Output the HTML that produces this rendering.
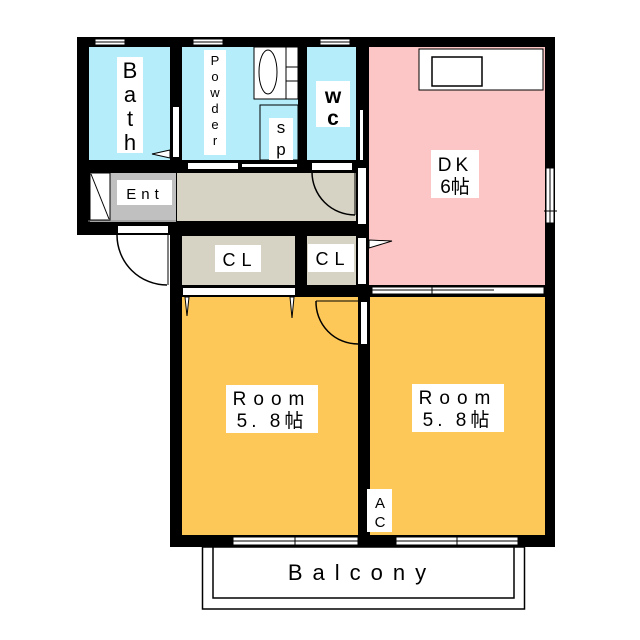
<!DOCTYPE html>
<html><head><meta charset="utf-8"><style>
html,body{margin:0;padding:0;background:#fff;width:640px;height:640px;overflow:hidden}
svg{display:block}
text{font-family:"Liberation Sans","Noto Sans CJK JP",sans-serif;fill:#000}
</style></head><body>
<svg width="640" height="640" viewBox="0 0 640 640" xmlns="http://www.w3.org/2000/svg">
<rect x="77" y="37" width="478" height="198" fill="#000"/>
<rect x="170" y="235" width="385" height="312" fill="#000"/>
<rect x="89" y="47" width="81" height="113" fill="#b5eefa"/>
<rect x="182" y="47" width="116" height="113" fill="#b5eefa"/>
<rect x="307" y="47" width="49" height="113" fill="#b5eefa"/>
<rect x="369" y="47" width="176" height="238" fill="#fcc6c6"/>
<rect x="90" y="173" width="86" height="49" fill="#c0c0c0"/>
<rect x="177" y="173" width="179" height="48" fill="#d6d3c4"/>
<rect x="182" y="236" width="113" height="49" fill="#d6d3c4"/>
<rect x="307" y="236" width="49" height="49" fill="#d6d3c4"/>
<rect x="182" y="297" width="176" height="238" fill="#fdc858"/>
<rect x="370" y="297" width="175" height="238" fill="#fdc858"/>
<g fill="#fff" stroke="#000" stroke-width="1">
<rect x="95" y="39" width="30" height="6"/><rect x="193" y="39" width="30" height="6"/><rect x="320" y="39" width="30" height="6"/>
</g>
<line x1="95" y1="42" x2="125" y2="42" stroke="#000"/><line x1="193" y1="42" x2="223" y2="42" stroke="#000"/><line x1="320" y1="42" x2="350" y2="42" stroke="#000"/>
<rect x="173" y="107" width="6" height="50" fill="#fff"/>
<polygon points="170,150 152,154 170,158" fill="#fff" stroke="#000"/>
<rect x="254" y="47" width="44" height="52" fill="#fff" stroke="#000"/>
<ellipse cx="268" cy="72" rx="9" ry="22" fill="#fff" stroke="#000"/>
<line x1="286" y1="47" x2="286" y2="99" stroke="#000"/>
<line x1="286" y1="67" x2="298" y2="67" stroke="#000"/><line x1="286" y1="81" x2="298" y2="81" stroke="#000"/>
<rect x="260" y="105" width="38" height="55" fill="#b5eefa" stroke="#000"/>
<rect x="188" y="163" width="50" height="6" fill="#fff"/>
<rect x="242" y="164" width="55" height="3" fill="#fff"/>
<rect x="312" y="163" width="40" height="7" fill="#fff"/>
<path d="M312,172 A43,43 0 0 0 355,215" fill="none" stroke="#000" stroke-width="1.5"/>
<line x1="355" y1="172" x2="355" y2="215" stroke="#000"/>
<rect x="360" y="110" width="3" height="50" fill="#fff"/>
<rect x="358" y="168" width="8" height="56" fill="#fff"/>
<rect x="358" y="238" width="8" height="46" fill="#fff"/>
<polygon points="369,240 392,241 369,248" fill="#fff" stroke="#000"/>
<rect x="419" y="49" width="124" height="41" fill="#fff" stroke="#000"/>
<rect x="432" y="57" width="50" height="29" fill="#fff" stroke="#000" stroke-width="1.5"/>
<rect x="546" y="168" width="8" height="55" fill="#fff" stroke="#000"/>
<line x1="550" y1="168" x2="550" y2="223" stroke="#000"/>
<line x1="544" y1="211" x2="557" y2="211" stroke="#000"/>
<rect x="372" y="287" width="172" height="7" fill="#fff" stroke="#000"/>
<line x1="372" y1="290" x2="494" y2="290" stroke="#000"/>
<line x1="432" y1="285" x2="432" y2="296" stroke="#000"/>
<rect x="90" y="173" width="20" height="47" fill="#fff" stroke="#000"/>
<line x1="91" y1="174" x2="109" y2="219" stroke="#000"/>
<line x1="88" y1="221" x2="176" y2="221" stroke="#888"/>
<rect x="118" y="226" width="50" height="7" fill="#fff"/>
<rect x="77" y="235" width="93" height="60" fill="#fff"/>
<path d="M117,235 A50,50 0 0 0 167,285" fill="none" stroke="#000" stroke-width="1.5"/>
<line x1="168" y1="235" x2="168" y2="285" stroke="#000"/>
<rect x="183" y="288" width="112" height="7" fill="#fff"/>
<polygon points="185,297 189,297 187,316" fill="#fff" stroke="#000"/>
<polygon points="290,297 294,297 292,318" fill="#fff" stroke="#000"/>
<rect x="361" y="302" width="6" height="42" fill="#fff"/>
<path d="M316,301 A42,42 0 0 0 358,344" fill="none" stroke="#000" stroke-width="1.5"/>
<line x1="316" y1="301" x2="358" y2="301" stroke="#000"/>
<rect x="233" y="537" width="125" height="8" fill="#fff" stroke="#000"/>
<line x1="233" y1="541" x2="358" y2="541" stroke="#000"/>
<line x1="295" y1="535" x2="295" y2="547" stroke="#000"/>
<rect x="396" y="537" width="122" height="8" fill="#fff" stroke="#000"/>
<line x1="396" y1="541" x2="518" y2="541" stroke="#000"/>
<line x1="457" y1="535" x2="457" y2="547" stroke="#000"/>
<rect x="202.5" y="547" width="322" height="62" fill="none" stroke="#000" stroke-width="1.5"/>
<rect x="213" y="547" width="301" height="51" fill="#fff" stroke="#000" stroke-width="1.5"/>
<text x="362" y="580" font-size="22" text-anchor="middle" letter-spacing="10">Balcony</text>
<g fill="#fff">
<rect x="117" y="57" width="26" height="96"/><rect x="204" y="50" width="22" height="105"/>
<rect x="269" y="118" width="24" height="42"/><rect x="316" y="81" width="34" height="46"/>
<rect x="117" y="180" width="55" height="25"/>
<rect x="215" y="245" width="46" height="27"/><rect x="308" y="244" width="46" height="28"/>
<rect x="431" y="150" width="48" height="48"/>
<rect x="226" y="385" width="92" height="48"/><rect x="412" y="384" width="92" height="48"/>
<rect x="367" y="489" width="25" height="43"/>
</g>
<g font-size="22" text-anchor="middle">
<text x="130" y="78">B</text><text x="130" y="102">a</text><text x="130" y="126">t</text><text x="130" y="150">h</text>
</g>
<g font-size="13" text-anchor="middle">
<text x="215" y="65">P</text><text x="215" y="81">o</text><text x="215" y="97">w</text><text x="215" y="113">d</text><text x="215" y="129">e</text><text x="215" y="145">r</text>
</g>
<text x="281" y="133" font-size="17" text-anchor="middle">s</text>
<text x="281" y="155" font-size="17" text-anchor="middle">p</text>
<text x="333" y="103" font-size="21" text-anchor="middle" font-weight="bold">w</text>
<text x="333" y="125" font-size="21" text-anchor="middle" font-weight="bold">c</text>
<text x="145" y="199" font-size="15" text-anchor="middle" letter-spacing="5">Ent</text>
<text x="240" y="266" font-size="18" text-anchor="middle" letter-spacing="6">CL</text>
<text x="333" y="265" font-size="18" text-anchor="middle" letter-spacing="6">CL</text>
<text x="455" y="171" font-size="19" text-anchor="middle" letter-spacing="4">DK</text>
<text x="455" y="193" font-size="19" text-anchor="middle">6帖</text>
<text x="272" y="405" font-size="19" text-anchor="middle" letter-spacing="7">Room</text>
<text x="272" y="427" font-size="19" text-anchor="middle" letter-spacing="4">5. 8帖</text>
<text x="458" y="404" font-size="19" text-anchor="middle" letter-spacing="7">Room</text>
<text x="458" y="426" font-size="19" text-anchor="middle" letter-spacing="4">5. 8帖</text>
<text x="380" y="508" font-size="15" text-anchor="middle">A</text>
<text x="380" y="527" font-size="15" text-anchor="middle">C</text>
</svg>
</body></html>
